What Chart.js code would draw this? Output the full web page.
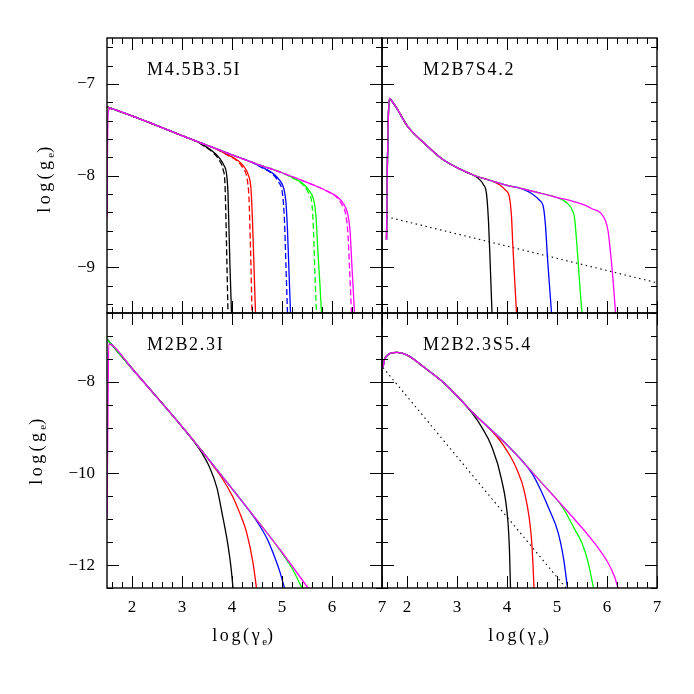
<!DOCTYPE html>
<html>
<head>
<meta charset="utf-8">
<script src="https://cdn.jsdelivr.net/npm/chart.js@4.4.1/dist/chart.umd.min.js"></script>
<style>
  body { margin: 0; background: #fff; }
  #wrap { position: relative; width: 694px; height: 694px; background: #fff; font-family: "Liberation Serif", serif; color: #000; }
  #wrap canvas { position: absolute; left: 0; top: 0; }
  .lbl { position: absolute; font-size: 18px; line-height: 18px; letter-spacing: 1.7px; white-space: nowrap; }
  .xt { position: absolute; width: 140px; text-align: center; font-size: 18px; line-height: 18px; letter-spacing: 2.6px; white-space: nowrap; }
  .yt { position: absolute; font-size: 18px; line-height: 18px; letter-spacing: 3.4px; white-space: nowrap; transform: translate(-50%, -50%) rotate(-90deg); }
  .sub { font-size: 11px; position: relative; top: 4px; letter-spacing: 0; }
</style>
</head>
<body>
<div id="wrap">
  <canvas id="p1" width="694" height="694"></canvas>
  <canvas id="p2" width="694" height="694"></canvas>
  <canvas id="p3" width="694" height="694"></canvas>
  <canvas id="p4" width="694" height="694"></canvas>
  <div class="lbl" style="left:147px;top:60px">M4.5B3.5I</div>
  <div class="lbl" style="left:423px;top:60px">M2B7S4.2</div>
  <div class="lbl" style="left:147px;top:335px">M2B2.3I</div>
  <div class="lbl" style="left:423px;top:335px">M2B2.3S5.4</div>
  <div class="yt" style="left:45px;top:178px">log(g<span class="sub">e</span>)</div>
  <div class="yt" style="left:37px;top:450px">log(g<span class="sub">e</span>)</div>
  <div class="xt" style="left:174px;top:626px">log(γ<span class="sub">e</span>)</div>
  <div class="xt" style="left:450px;top:626px">log(γ<span class="sub">e</span>)</div>
</div>
<script>
// colours: black, red, blue, green, magenta
const curveColors = ['#000000', '#ff0000', '#0000ff', '#00ff00', '#ff00ff'];
const xTicks = [2, 3, 4, 5, 6, 7];
const yTicksTop = [-7, -8, -9];
const yTicksBottom = [-8, -10, -12];

// ---- M4.5B3.5I (top left), solid + dashed
const tlTrunk = [[1.5, -7.25], [2.0, -7.35], [2.5, -7.455], [3.0, -7.565], [3.5, -7.67], [4.0, -7.775],
  [4.5, -7.875], [5.0, -7.97], [5.5, -8.075], [6.0, -8.185], [6.5, -8.3]];
const tlMagentaHead = [[1.5, -8.46], [1.51, -7.7], [1.52, -7.35], [1.54, -7.28], [1.58, -7.27], [1.7, -7.29]];
const tlBlack = [[3.2, -7.607], [3.4, -7.66], [3.6, -7.73], [3.75, -7.81], [3.84, -7.89], [3.89, -7.98], [3.92, -8.2], [3.94, -8.6], [3.96, -9.0], [3.99, -9.5]];
const tlRed = [[3.7, -7.715], [3.9, -7.77], [4.1, -7.83], [4.25, -7.91], [4.33, -8.0], [4.38, -8.15], [4.41, -8.5], [4.44, -9.0], [4.47, -9.5]];
const tlBlue = [[4.4, -7.857], [4.6, -7.91], [4.8, -7.97], [4.95, -8.05], [5.04, -8.15], [5.08, -8.3], [5.11, -8.6], [5.14, -9.05], [5.17, -9.5]];
const tlGreen = [[5.0, -7.97], [5.2, -8.02], [5.4, -8.08], [5.55, -8.17], [5.64, -8.28], [5.68, -8.45], [5.72, -8.85], [5.76, -9.2], [5.79, -9.5]];
const tlMagenta = [[5.7, -8.12], [5.9, -8.17], [6.1, -8.23], [6.23, -8.31], [6.31, -8.41], [6.36, -8.6], [6.4, -9.0], [6.43, -9.3], [6.45, -9.5]];
const tlBlackDash = [[3.2, -7.607], [3.4, -7.665], [3.6, -7.74], [3.74, -7.83], [3.82, -7.93], [3.86, -8.1], [3.88, -8.5], [3.9, -9.0], [3.92, -9.5]];
const tlRedDash = [[3.7, -7.715], [3.9, -7.775], [4.1, -7.84], [4.22, -7.92], [4.3, -8.03], [4.34, -8.25], [4.36, -8.6], [4.38, -9.0], [4.4, -9.5]];
const tlBlueDash = [[4.4, -7.857], [4.6, -7.915], [4.8, -7.98], [4.93, -8.07], [5.01, -8.2], [5.05, -8.5], [5.08, -9.0], [5.11, -9.5]];
const tlGreenDash = [[5.0, -7.97], [5.2, -8.025], [5.4, -8.09], [5.52, -8.18], [5.6, -8.32], [5.63, -8.6], [5.66, -9.1], [5.69, -9.5]];
const tlMagentaDash = [[5.7, -8.12], [5.9, -8.17], [6.1, -8.24], [6.2, -8.32], [6.28, -8.44], [6.32, -8.65], [6.35, -9.0], [6.39, -9.5]];

// ---- M2B7S4.2 (top right)
const trTrunk = [[1.59, -8.7], [1.61, -7.8], [1.63, -7.3], [1.655, -7.16], [1.7, -7.19], [1.8, -7.27], [2.02, -7.47],
  [2.35, -7.65], [2.69, -7.815], [3.02, -7.92], [3.35, -8.0], [3.7, -8.06], [4.02, -8.11], [4.35, -8.15],
  [4.69, -8.196], [5.0, -8.24], [5.35, -8.287], [5.69, -8.36], [5.95, -8.47]];
const trBlack = [[3.2, -7.965], [3.4, -8.02], [3.53, -8.1], [3.59, -8.2], [3.63, -8.5], [3.66, -8.9], [3.68, -9.2], [3.7, -9.5]];
const trRed = [[3.7, -8.06], [3.85, -8.1], [3.97, -8.16], [4.05, -8.24], [4.09, -8.45], [4.12, -8.8], [4.16, -9.2], [4.19, -9.5]];
const trBlue = [[4.3, -8.145], [4.5, -8.2], [4.65, -8.27], [4.73, -8.35], [4.77, -8.55], [4.81, -8.9], [4.85, -9.2], [4.89, -9.5]];
const trGreen = [[5.0, -8.24], [5.2, -8.3], [5.3, -8.37], [5.35, -8.46], [5.39, -8.7], [5.43, -9.0], [5.47, -9.3], [5.5, -9.5]];
const trMagenta = [[6.02, -8.6], [6.09, -8.95], [6.13, -9.2], [6.17, -9.5]];
const trDotted = [[1.59, -8.45], [7.0, -9.17]];

// ---- M2B2.3I (bottom left)
const blTrunk = [[1.5, -7.07], [2.0, -7.71], [2.5, -8.34], [3.0, -8.98], [3.5, -9.65], [4.0, -10.33],
  [4.5, -11.02], [5.0, -11.72], [5.52, -12.5]];
const blMagentaHead = [[1.5, -10.96], [1.52, -8.5], [1.535, -7.18], [1.6, -7.2]];
const blBlack = [[3.2, -9.25], [3.4, -9.56], [3.55, -9.86], [3.7, -10.32], [3.8, -10.86], [3.92, -11.57], [3.98, -12.05], [4.02, -12.5]];
const blRed = [[3.6, -9.8], [3.8, -10.1], [4.02, -10.52], [4.15, -10.85], [4.29, -11.28], [4.42, -11.95], [4.49, -12.5]];
const blBlue = [[4.3, -10.75], [4.5, -11.05], [4.7, -11.42], [4.82, -11.73], [4.95, -12.12], [5.05, -12.5]];
const blGreen = [[4.8, -11.44], [5.0, -11.74], [5.2, -12.07], [5.4, -12.5]];
const blMagenta = [[5.52, -12.5]];

// ---- M2B2.3S5.4 (bottom right)
const brTrunk = [[1.52, -7.69], [1.55, -7.52], [1.62, -7.41], [1.79, -7.36], [2.02, -7.43], [2.35, -7.69],
  [2.69, -7.98], [3.0, -8.31], [3.35, -8.71], [4.02, -9.4], [4.69, -10.2], [5.35, -11.0], [5.7, -11.45],
  [6.02, -11.95], [6.15, -12.25], [6.22, -12.5]];
const brBlack = [[3.3, -8.68], [3.5, -9.0], [3.69, -9.4], [3.89, -10.13], [4.02, -11.07], [4.05, -11.7], [4.07, -12.5]];
const brRed = [[3.8, -9.2], [4.02, -9.54], [4.2, -9.92], [4.35, -10.41], [4.49, -11.43], [4.52, -12.0], [4.54, -12.5]];
const brBlue = [[4.5, -10.0], [4.69, -10.4], [4.85, -10.8], [5.02, -11.28], [5.13, -11.85], [5.21, -12.5]];
const brGreen = [[5.1, -10.72], [5.35, -11.21], [5.5, -11.52], [5.62, -11.93], [5.73, -12.5]];
const brMagenta = [[6.22, -12.5]];
const brDotted = [[1.52, -7.69], [5.18, -12.5]];

// trunk points up to where the tail starts, then the tail
function joinCurve(trunk, tail, head) {
  head = head || [];
  const start = head.length ? head[head.length - 1][0] : -Infinity;
  const pts = head.concat(trunk.filter(p => p[0] > start && p[0] < tail[0][0]), tail);
  return pts.map(p => ({ x: p[0], y: p[1] }));
}

function line(data, color, dash) {
  return {
    data: data,
    borderColor: color,
    borderWidth: dash === 'dot' ? 1.1 : 1.3,
    borderDash: dash === 'dot' ? [1.5, 3.5] : (dash ? [6, 3] : []),
    pointRadius: 0,
    fill: false,
    cubicInterpolationMode: dash === 'dot' ? 'default' : 'monotone'
  };
}

function minorList(min, max, step) {
  const out = [];
  for (let i = Math.ceil(min / step - 1e-9); i <= Math.floor(max / step + 1e-9); i++) out.push(i * step);
  return out;
}

// frame with inward ticks on all four sides
const frameTicks = {
  id: 'frameTicks',
  afterDraw(chart, args, opts) {
    const { ctx, chartArea: a } = chart;
    const x = chart.scales.x, y = chart.scales.y;
    ctx.save();
    ctx.strokeStyle = '#000';
    ctx.lineWidth = 1;
    ctx.beginPath();
    const tick = (list, len) => {
      list.forEach(v => {
        const px = Math.round(x.getPixelForValue(v)) + 0.5;
        ctx.moveTo(px, a.bottom); ctx.lineTo(px, a.bottom - len);
        ctx.moveTo(px, a.top); ctx.lineTo(px, a.top + len);
      });
    };
    const tickY = (list, len) => {
      list.forEach(v => {
        const py = Math.round(y.getPixelForValue(v)) + 0.5;
        ctx.moveTo(a.left, py); ctx.lineTo(a.left + len, py);
        ctx.moveTo(a.right, py); ctx.lineTo(a.right - len, py);
      });
    };
    tick(minorList(x.min, x.max, opts.minorX), 6);
    tick(opts.majorX, 12);
    tickY(minorList(y.min, y.max, opts.minorY), 6);
    tickY(opts.majorY, 12);
    ctx.stroke();
    ctx.lineWidth = 1.4;
    ctx.strokeRect(a.left, a.top, a.right - a.left, a.bottom - a.top);
    ctx.restore();
  }
};

const tickFont = { family: 'Liberation Serif', size: 17 };
const minus = v => String(v).replace('-', '\u2212');

function makePanel(id, datasets, p) {
  new Chart(document.getElementById(id), {
    type: 'line',
    data: { datasets: datasets },
    plugins: [frameTicks],
    options: {
      responsive: false,
      animation: false,
      events: [],
      layout: { padding: p.padding },
      plugins: {
        legend: { display: false },
        tooltip: { enabled: false },
        frameTicks: { majorX: xTicks, majorY: p.yTicks, minorX: 0.2, minorY: p.minorY }
      },
      scales: {
        x: {
          type: 'linear', min: 1.5, max: 7,
          display: p.showX,
          grid: { display: false, drawTicks: false },
          border: { display: false },
          afterBuildTicks: s => { s.ticks = xTicks.map(v => ({ value: v })); },
          afterFit: s => { s.height = p.showX ? 40 : 0; },
          ticks: { autoSkip: false, maxRotation: 0, padding: 9, color: '#000', font: tickFont, callback: v => String(v) }
        },
        y: {
          type: 'linear', min: p.yMin, max: -6.5,
          display: p.showY,
          grid: { display: false, drawTicks: false },
          border: { display: false },
          afterBuildTicks: s => { s.ticks = p.yTicks.map(v => ({ value: v })); },
          afterFit: s => { s.width = p.showY ? 60 : 0; },
          ticks: { autoSkip: false, padding: 12, color: '#000', font: tickFont, callback: minus }
        }
      }
    }
  });
}

const c = curveColors;
makePanel('p1', [
  line(joinCurve(tlTrunk, tlMagenta, tlMagentaHead), c[4]),
  line(joinCurve(tlTrunk, tlMagentaDash), c[4], true),
  line(joinCurve(tlTrunk, tlGreen), c[3]),
  line(joinCurve(tlTrunk, tlGreenDash), c[3], true),
  line(joinCurve(tlTrunk, tlBlue), c[2]),
  line(joinCurve(tlTrunk, tlBlueDash), c[2], true),
  line(joinCurve(tlTrunk, tlRed), c[1]),
  line(joinCurve(tlTrunk, tlRedDash), c[1], true),
  line(joinCurve(tlTrunk, tlBlack), c[0]),
  line(joinCurve(tlTrunk, tlBlackDash), c[0], true)
], { padding: { left: 47, right: 312, top: 38, bottom: 381 }, showX: false, showY: true, yMin: -9.5, yTicks: yTicksTop, minorY: 0.2 });

makePanel('p2', [
  line(joinCurve(trTrunk, trMagenta), c[4]),
  line(joinCurve(trTrunk, trGreen), c[3]),
  line(joinCurve(trTrunk, trBlue), c[2]),
  line(joinCurve(trTrunk, trRed), c[1]),
  line(joinCurve(trTrunk, trBlack), c[0]),
  line(trDotted.map(p => ({ x: p[0], y: p[1] })), '#000', 'dot')
], { padding: { left: 382, right: 37, top: 38, bottom: 381 }, showX: false, showY: false, yMin: -9.5, yTicks: yTicksTop, minorY: 0.2 });

makePanel('p3', [
  line(joinCurve(blTrunk, blMagenta, blMagentaHead), c[4]),
  line(joinCurve(blTrunk, blGreen), c[3]),
  line(joinCurve(blTrunk, blBlue), c[2]),
  line(joinCurve(blTrunk, blRed), c[1]),
  line(joinCurve(blTrunk, blBlack), c[0])
], { padding: { left: 47, right: 312, top: 313, bottom: 66 }, showX: true, showY: true, yMin: -12.5, yTicks: yTicksBottom, minorY: 0.5 });

makePanel('p4', [
  line(joinCurve(brTrunk, brMagenta), c[4]),
  line(joinCurve(brTrunk, brGreen), c[3]),
  line(joinCurve(brTrunk, brBlue), c[2]),
  line(joinCurve(brTrunk, brRed), c[1]),
  line(joinCurve(brTrunk, brBlack), c[0]),
  line(brDotted.map(p => ({ x: p[0], y: p[1] })), '#000', 'dot')
], { padding: { left: 382, right: 37, top: 313, bottom: 66 }, showX: true, showY: false, yMin: -12.5, yTicks: yTicksBottom, minorY: 0.5 });
</script>
</body>
</html>
